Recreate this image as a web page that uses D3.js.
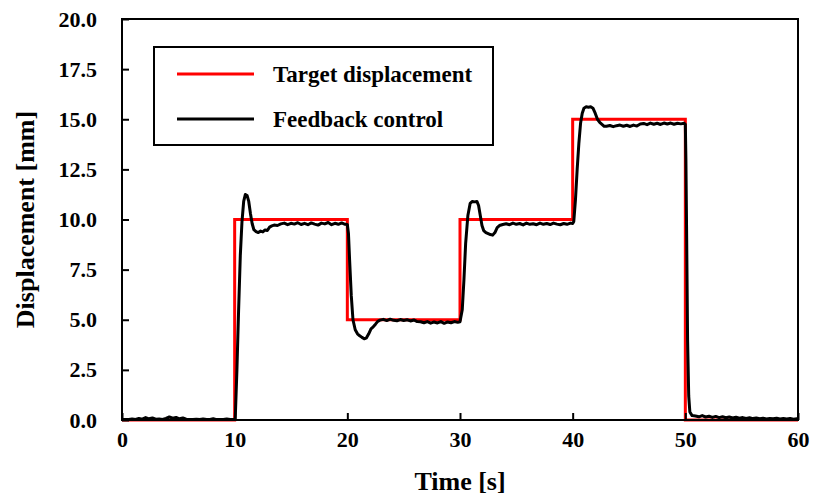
<!DOCTYPE html>
<html>
<head>
<meta charset="utf-8">
<script src="https://cdn.jsdelivr.net/npm/d3@7"></script>
<style>
  html, body { margin: 0; padding: 0; background: #fff; }
  svg text { font-family: "Liberation Serif", "Times New Roman", serif; font-weight: bold; fill: #000; }
</style>
</head>
<body>
<svg id="chart" width="814" height="496"></svg>
<script>
// Step target (time [s], displacement [mm]) — drawn as a step-after line
const targetTimes  = [0, 10, 20, 30, 40, 50, 60];
const targetValues = [0, 10, 5, 10, 15, 0, 0];

// Measured response under feedback control
const feedbackTimes = [
  0, 0.3, 0.6, 0.9, 1.2, 1.5, 1.8, 2.1, 2.4, 2.7, 3.0, 3.3, 3.6, 3.9, 4.2, 4.5, 4.8, 5.1, 5.4, 5.7,
  6.0, 6.3, 6.6, 6.9, 7.2, 7.5, 7.8, 8.1, 8.4, 8.7, 9.0, 9.3, 9.6, 9.9, 10.05,
  10.2, 10.35, 10.5, 10.65, 10.8, 10.95, 11.1, 11.25, 11.4, 11.55, 11.7, 11.9, 12.1, 12.3, 12.5, 12.7, 12.9,
  13.1, 13.3, 13.5, 13.8, 14.1, 14.4, 14.7, 15.0, 15.3, 15.6, 15.9, 16.2, 16.5, 16.8, 17.1, 17.4, 17.7,
  18.0, 18.3, 18.6, 18.9, 19.2, 19.5, 19.8, 20.0,
  20.1, 20.2, 20.35, 20.5, 20.7, 20.9, 21.1, 21.3, 21.5, 21.7, 21.9, 22.1, 22.3, 22.5, 22.7, 22.9,
  23.2, 23.5, 23.8, 24.1, 24.4, 24.7, 25.0, 25.3, 25.6, 25.9, 26.2, 26.5, 26.8, 27.1, 27.4, 27.7,
  28.0, 28.3, 28.6, 28.9, 29.2, 29.5, 29.8, 30.0,
  30.2, 30.35, 30.5, 30.7, 30.9, 31.1, 31.3, 31.5, 31.65, 31.8, 31.95, 32.1, 32.3, 32.5, 32.7, 32.9,
  33.1, 33.3, 33.5, 33.8, 34.1, 34.4, 34.7, 35.0, 35.3, 35.6, 35.9, 36.2, 36.5, 36.8, 37.1, 37.4, 37.7,
  38.0, 38.3, 38.6, 38.9, 39.2, 39.5, 39.8, 40.0,
  40.1, 40.25, 40.4, 40.55, 40.7, 40.85, 41.0, 41.2, 41.4, 41.6, 41.8, 42.0, 42.2, 42.4, 42.6, 42.8,
  43.0, 43.3, 43.6, 43.9, 44.2, 44.5, 44.8, 45.1, 45.4, 45.7, 46.0, 46.3, 46.6, 46.9, 47.2, 47.5, 47.8,
  48.1, 48.4, 48.7, 49.0, 49.3, 49.6, 49.9, 50.0,
  50.05, 50.12, 50.2, 50.3, 50.4, 50.6, 50.9, 51.2, 51.5, 51.8, 52.1, 52.4, 52.7, 53.0, 53.3, 53.6,
  53.9, 54.2, 54.5, 54.8, 55.1, 55.4, 55.7, 56.0, 56.3, 56.6, 56.9, 57.2, 57.5, 57.8, 58.1, 58.4,
  58.7, 59.0, 59.3, 59.6, 59.9, 60.0
];
const feedbackValues = [
  0.02, 0.03, 0.02, 0.05, 0.03, 0.08, 0.04, 0.12, 0.06, 0.10, 0.04, 0.05, 0.03, 0.08, 0.15, 0.09, 0.13, 0.06, 0.10, 0.04,
  0.03, 0.02, 0.04, 0.02, 0.05, 0.02, 0.03, 0.06, 0.02, 0.03, 0.02, 0.05, 0.03, 0.02, 0.05,
  2.5, 5.5, 8.2, 9.9, 10.9, 11.25, 11.2, 10.9, 10.3, 9.8, 9.5, 9.4, 9.35, 9.42, 9.38, 9.48, 9.45,
  9.62, 9.68, 9.72, 9.70, 9.78, 9.82, 9.74, 9.81, 9.77, 9.84, 9.75, 9.81, 9.74, 9.83, 9.77, 9.72, 9.82,
  9.78, 9.85, 9.74, 9.81, 9.76, 9.83, 9.76, 9.75,
  9.3, 8.0, 6.2, 5.0, 4.5, 4.3, 4.2, 4.12, 4.05, 4.1, 4.3, 4.55, 4.65, 4.78, 4.92, 4.98,
  5.02, 4.96, 5.03, 4.97, 4.95, 5.01, 4.96, 5.0, 4.94, 4.99, 4.91, 4.9, 4.85, 4.91, 4.83, 4.89,
  4.84, 4.91, 4.82, 4.89, 4.85, 4.91, 4.87, 4.9,
  5.5, 7.0, 8.8, 10.2, 10.8, 10.9, 10.88, 10.9, 10.7, 10.2, 9.7, 9.45, 9.35, 9.3, 9.25, 9.22,
  9.35, 9.6, 9.7, 9.75, 9.79, 9.74, 9.82, 9.76, 9.80, 9.73, 9.82, 9.76, 9.79, 9.74, 9.82, 9.76, 9.80,
  9.75, 9.82, 9.77, 9.74, 9.80, 9.76, 9.82, 9.8,
  9.9, 11.0, 12.5, 13.8, 14.8, 15.3, 15.55, 15.62, 15.6, 15.62, 15.55, 15.3, 15.0, 14.85, 14.75, 14.65,
  14.65, 14.69, 14.63, 14.68, 14.71, 14.65, 14.70, 14.64, 14.71, 14.66, 14.76, 14.79, 14.73, 14.81, 14.75, 14.80, 14.74,
  14.81, 14.76, 14.81, 14.75, 14.80, 14.77, 14.8, 14.75,
  13.0, 9.0, 4.0, 1.2, 0.4, 0.22, 0.2, 0.16, 0.22, 0.15, 0.19, 0.13, 0.18, 0.12, 0.16, 0.11,
  0.15, 0.10, 0.14, 0.09, 0.12, 0.08, 0.11, 0.07, 0.10, 0.06, 0.09, 0.05, 0.08, 0.06, 0.09, 0.05,
  0.07, 0.05, 0.08, 0.04, 0.06, 0.06
];

const yTicks = [0, 2.5, 5, 7.5, 10, 12.5, 15, 17.5, 20];
const xTicks = [0, 10, 20, 30, 40, 50, 60];
const legendLabels = ["Target displacement", "Feedback control"];
const seriesColors = ["#ff0000", "#000000"];

const W = 814, H = 496;
const margin = { top: 19, right: 16, bottom: 76, left: 122 };
const innerW = W - margin.left - margin.right;
const innerH = H - margin.top - margin.bottom;

const svg = d3.select("#chart");
const g = svg.append("g").attr("transform", `translate(${margin.left},${margin.top})`);

const x = d3.scaleLinear().domain([0, 60]).range([0, innerW]);
const y = d3.scaleLinear().domain([0, 20]).range([innerH, 0]);

// Curves
const targetData = targetTimes.map((t, i) => [t, targetValues[i]]);
const feedbackData = feedbackTimes.map((t, i) => [t, feedbackValues[i]]);

g.append("path")
  .datum(targetData)
  .attr("fill", "none")
  .attr("stroke", seriesColors[0])
  .attr("stroke-width", 3)
  .attr("d", d3.line().x(d => x(d[0])).y(d => y(d[1])).curve(d3.curveStepAfter));

g.append("path")
  .datum(feedbackData)
  .attr("fill", "none")
  .attr("stroke", seriesColors[1])
  .attr("stroke-width", 3)
  .attr("stroke-linejoin", "round")
  .attr("d", d3.line().x(d => x(d[0])).y(d => y(d[1])));

// Axes with inward ticks
const yAxis = d3.axisLeft(y).tickValues(yTicks).tickSize(-7).tickPadding(25)
  .tickFormat(d3.format(".1f"));
const xAxis = d3.axisBottom(x).tickValues(xTicks).tickSize(-7).tickPadding(11)
  .tickFormat(d3.format("d"));

const gy = g.append("g").call(yAxis);
const gx = g.append("g").attr("transform", `translate(0,${innerH})`).call(xAxis);
[gx, gy].forEach(a => {
  a.select(".domain").remove();
  a.selectAll(".tick line").attr("stroke", "#000").attr("stroke-width", 2);
  a.selectAll(".tick text").style("font-size", "22px");
});

// Plot frame
g.append("rect")
  .attr("x", 0).attr("y", 0).attr("width", innerW).attr("height", innerH)
  .attr("fill", "none").attr("stroke", "#000").attr("stroke-width", 2);

// Axis titles
svg.append("text")
  .attr("x", margin.left + innerW / 2).attr("y", 490)
  .attr("text-anchor", "middle").style("font-size", "26px")
  .text("Time [s]");
svg.append("text")
  .attr("transform", `translate(34,${margin.top + innerH / 2}) rotate(-90)`)
  .attr("text-anchor", "middle").style("font-size", "26px")
  .text("Displacement [mm]");

// Legend
const lg = svg.append("g");
lg.append("rect")
  .attr("x", 154).attr("y", 47).attr("width", 339).attr("height", 98)
  .attr("fill", "#fff").attr("stroke", "#000").attr("stroke-width", 2);
legendLabels.forEach((lab, i) => {
  const ly = 74 + i * 45;
  lg.append("line").attr("x1", 177).attr("x2", 254).attr("y1", ly).attr("y2", ly)
    .attr("stroke", seriesColors[i]).attr("stroke-width", 3);
  lg.append("text").attr("x", 273).attr("y", ly + 8).style("font-size", "23px").text(lab);
});
</script>
</body>
</html>
